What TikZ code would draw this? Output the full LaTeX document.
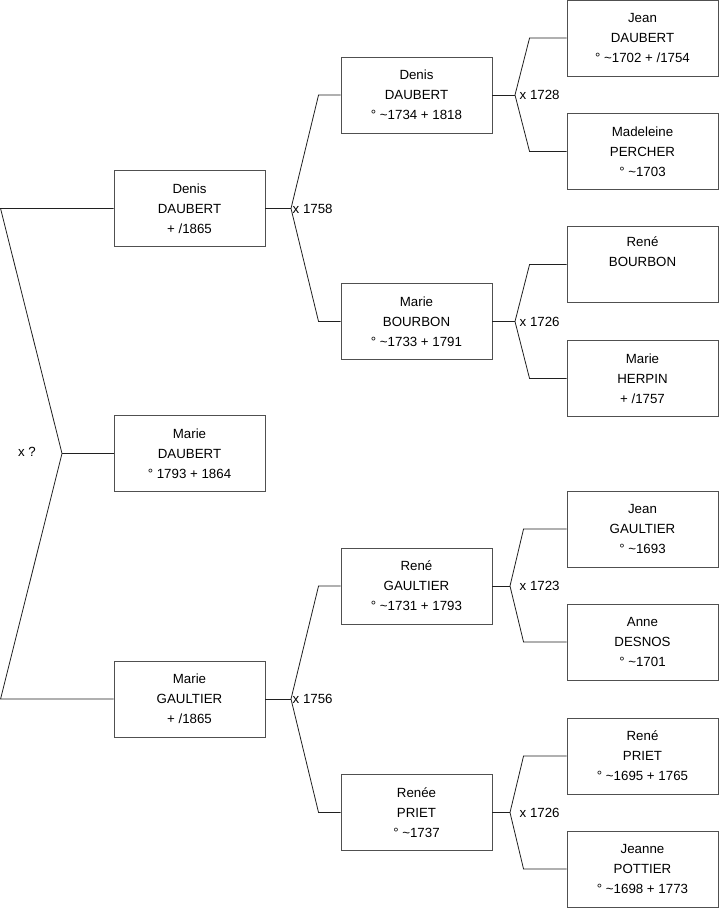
\documentclass[tikz,border=0pt]{standalone}
\usepackage{fontspec}
\setmainfont{Liberation Sans}
\usepackage{tikz}
\usetikzlibrary{positioning}
\definecolor{boxGrey}{HTML}{505050}
\definecolor{lineDark}{HTML}{202020}

\begin{document}
\begin{tikzpicture}[
  x=1pt, y=-1pt,
  person/.style={rectangle, draw=boxGrey, line width=0.9pt, minimum width=151pt, minimum height=76pt, inner sep=0pt, align=center, font=\fontsize{13.3}{20}\selectfont},
  link/.style={draw=lineDark, line width=0.8pt},
  wed/.style={anchor=west, inner sep=1.5pt, font=\fontsize{13.3}{15}\selectfont},
]
\useasboundingbox (0,0) rectangle (719,908);

% Column 1 — child and parents
\node[person] (marie0) at (189.5,453.5) {Marie\\DAUBERT\\° 1793 + 1864};
\node[person] (denis1) at (189.5,208.5) {Denis\\DAUBERT\\+ /1865};
\node[person] (gaultier1) at (189.5,699) {Marie\\GAULTIER\\+ /1865};

% Column 2 — grandparents
\node[person] (denis2) at (416.5,95) {Denis\\DAUBERT\\° \textasciitilde1734 + 1818};
\node[person] (bourbon2) at (416.5,321.5) {Marie\\BOURBON\\° \textasciitilde1733 + 1791};
\node[person] (gaultier2) at (416.5,586) {René\\GAULTIER\\° \textasciitilde1731 + 1793};
\node[person] (priet2) at (416.5,812.5) {Renée\\PRIET\\° \textasciitilde1737};

% Column 3 — great-grandparents
\node[person] (jean3) at (642.5,38) {Jean\\DAUBERT\\° \textasciitilde1702 + /1754};
\node[person] (percher3) at (642.5,151.5) {Madeleine\\PERCHER\\° \textasciitilde1703};
\node[person] (rene3) at (642.5,264.5) {René\\BOURBON\\\strut};
\node[person] (herpin3) at (642.5,378.5) {Marie\\HERPIN\\+ /1757};
\node[person] (jeang3) at (642.5,529) {Jean\\GAULTIER\\° \textasciitilde1693};
\node[person] (desnos3) at (642.5,642) {Anne\\DESNOS\\° \textasciitilde1701};
\node[person] (renep3) at (642.5,756) {René\\PRIET\\° \textasciitilde1695 + 1765};
\node[person] (pottier3) at (642.5,869) {Jeanne\\POTTIER\\° \textasciitilde1698 + 1773};

% Marriage forks
\coordinate (fork0) at (62,453.5);
\coordinate (fork1) at (291,208.5);
\coordinate (fork2) at (291,699);
\coordinate (fork3) at (515,95);
\coordinate (fork4) at (515,321.5);
\coordinate (fork5) at (510,586);
\coordinate (fork6) at (510,812.5);

% Fork labels
\node[anchor=east, inner sep=0pt, font=\fontsize{13.3}{15}\selectfont] (wed0) at (36,452) {x ?};
\node[wed] (wed1) at (fork1) {x 1758};
\node[wed] (wed2) at (fork2) {x 1756};
\node[wed, xshift=3pt] (wed3) at (fork3) {x 1728};
\node[wed, xshift=3pt] (wed4) at (fork4) {x 1726};
\node[wed, xshift=8pt] (wed5) at (fork5) {x 1723};
\node[wed, xshift=8pt] (wed6) at (fork6) {x 1726};

% Lines
\draw[link] (marie0.west) -- (fork0);
\draw[link] (denis1.west) -- ([xshift=-113pt]denis1.west) -- (fork0) -- ([xshift=-113pt]gaultier1.west) -- (gaultier1.west);

\draw[link] (denis1.east) -- (fork1);
\draw[link] (denis2.west) -- ([xshift=-22pt]denis2.west) -- (fork1) -- ([xshift=-22pt]bourbon2.west) -- (bourbon2.west);
\draw[link] (gaultier1.east) -- (fork2);
\draw[link] (gaultier2.west) -- ([xshift=-22pt]gaultier2.west) -- (fork2) -- ([xshift=-22pt]priet2.west) -- (priet2.west);

\draw[link] (denis2.east) -- (fork3);
\draw[link] (jean3.west) -- ([xshift=-37pt]jean3.west) -- (fork3) -- ([xshift=-37pt]percher3.west) -- (percher3.west);
\draw[link] (bourbon2.east) -- (fork4);
\draw[link] (rene3.west) -- ([xshift=-37pt]rene3.west) -- (fork4) -- ([xshift=-37pt]herpin3.west) -- (herpin3.west);
\draw[link] (gaultier2.east) -- (fork5);
\draw[link] (jeang3.west) -- ([xshift=-43pt]jeang3.west) -- (fork5) -- ([xshift=-43pt]desnos3.west) -- (desnos3.west);
\draw[link] (priet2.east) -- (fork6);
\draw[link] (renep3.west) -- ([xshift=-43pt]renep3.west) -- (fork6) -- ([xshift=-43pt]pottier3.west) -- (pottier3.west);

\end{tikzpicture}
\end{document}
